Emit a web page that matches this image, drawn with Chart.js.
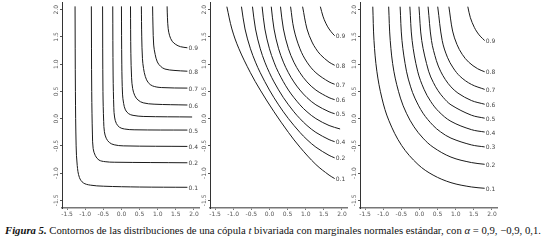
<!DOCTYPE html>
<html>
<head>
<meta charset="utf-8">
<title>Figura 5</title>
<script src="https://cdn.jsdelivr.net/npm/chart.js"></script>
<style>
  body { margin:0; background:#fff; width:548px; height:244px; overflow:hidden; position:relative; }
  canvas { position:absolute; top:0; }
  #cap { position:absolute; left:5px; top:224px; font-family:"Liberation Serif", "DejaVu Serif", serif; font-size:10.7px; color:#111; white-space:nowrap; }
</style>
</head>
<body>
<canvas id="c1" width="173" height="222" style="left:30px"></canvas>
<canvas id="c2" width="173" height="222" style="left:178px"></canvas>
<canvas id="c3" width="173" height="222" style="left:328px"></canvas>
<div id="cap"><b><i>Figura 5.</i></b> Contornos de las distribuciones de una cópula <i>t</i> bivariada con marginales normales estándar, con <i>α</i> = 0,9, −0,9, 0,1.</div>
<script>
var xTicks = [-1.5, -1.0, -0.5, 0.0, 0.5, 1.0, 1.5, 2.0];
var yTicks = [-1.5, -1.0, -0.5, 0.0, 0.5, 1.0, 1.5, 2.0];

// labels as printed at the right end of each contour (levels 0.1 .. 0.9)
var labels1 = ['0.1', '0.2', '0.4', '0.5', '', '0.6', '0.7', '0.8', '0.9'];
var labels2 = ['0.1', '0.2', '0.4', '', '0.5', '0.6', '0.7', '0.8', '0.9'];
var labels3 = ['0.1', '0.2', '0.3', '0.4', '0.5', '0.6', '0.7', '0.8', '0.9'];

// alpha = 0.9
var curves1 = [
  [[-1.28,2.06],[-1.27,0.5],[-1.25,-0.5],[-1.22,-0.86],[-1.16,-1.08],[-1.05,-1.18],[-0.86,-1.22],[-0.5,-1.24],[0.5,-1.255],[1.82,-1.26]],
  [[-0.83,2.06],[-0.82,0.5],[-0.80,-0.3],[-0.78,-0.55],[-0.72,-0.68],[-0.62,-0.76],[-0.45,-0.79],[-0.2,-0.80],[1.82,-0.81]],
  [[-0.52,2.06],[-0.51,0.5],[-0.49,-0.05],[-0.47,-0.24],[-0.42,-0.36],[-0.33,-0.44],[-0.2,-0.48],[0.05,-0.50],[1.82,-0.51]],
  [[-0.24,2.06],[-0.23,0.8],[-0.21,0.2],[-0.19,0.03],[-0.14,-0.09],[-0.05,-0.16],[0.08,-0.19],[0.35,-0.205],[1.82,-0.21]],
  [[0.0,2.06],[0.01,1.0],[0.03,0.45],[0.06,0.28],[0.11,0.16],[0.2,0.09],[0.32,0.06],[0.6,0.04],[1.95,0.03]],
  [[0.25,2.06],[0.26,1.2],[0.28,0.75],[0.31,0.55],[0.37,0.42],[0.46,0.34],[0.6,0.29],[0.9,0.265],[1.82,0.25]],
  [[0.55,2.06],[0.56,1.5],[0.58,1.1],[0.61,0.92],[0.66,0.77],[0.74,0.66],[0.86,0.6],[1.1,0.57],[1.82,0.56]],
  [[0.86,2.06],[0.87,1.7],[0.89,1.35],[0.93,1.18],[0.99,1.04],[1.08,0.96],[1.2,0.91],[1.45,0.885],[1.82,0.87]],
  [[1.26,2.06],[1.27,1.85],[1.29,1.65],[1.33,1.52],[1.4,1.42],[1.5,1.36],[1.63,1.32],[1.82,1.30]]
];

// alpha = -0.9
var curves2 = [
  [[-1.175,2.054],[-1.036,1.645],[-0.842,1.282],[-0.524,0.842],[-0.253,0.524],[0.126,0.126],[0.524,-0.253],[0.842,-0.524],[1.282,-0.842],[1.645,-1.036],[1.80,-1.10]],
  [[-0.772,2.054],[-0.674,1.645],[-0.524,1.282],[-0.385,1.036],[-0.253,0.842],[0,0.524],[0.253,0.253],[0.524,0],[0.842,-0.253],[1.036,-0.385],[1.282,-0.524],[1.645,-0.674],[1.80,-0.72]],
  [[-0.468,2.054],[-0.385,1.645],[-0.253,1.282],[-0.126,1.036],[0,0.842],[0.126,0.674],[0.385,0.385],[0.674,0.126],[0.842,0],[1.036,-0.126],[1.282,-0.253],[1.645,-0.385],[1.80,-0.423]],
  [[-0.202,2.054],[-0.126,1.645],[0,1.282],[0.126,1.036],[0.253,0.842],[0.524,0.524],[0.842,0.253],[1.036,0.126],[1.282,0],[1.645,-0.126],[1.95,-0.19]],
  [[0.05,2.054],[0.126,1.645],[0.253,1.282],[0.385,1.036],[0.524,0.842],[0.674,0.674],[0.842,0.524],[1.036,0.385],[1.282,0.253],[1.645,0.126],[1.80,0.09]],
  [[0.305,2.054],[0.385,1.645],[0.524,1.282],[0.674,1.036],[0.842,0.842],[1.036,0.674],[1.282,0.524],[1.645,0.385],[1.80,0.348]],
  [[0.583,2.054],[0.674,1.645],[0.842,1.282],[1.036,1.036],[1.282,0.842],[1.645,0.674],[1.80,0.631]],
  [[0.915,2.054],[1.036,1.645],[1.175,1.405],[1.282,1.282],[1.405,1.175],[1.645,1.036],[1.80,0.979]],
  [[1.405,2.054],[1.476,1.881],[1.555,1.751],[1.645,1.645],[1.751,1.555],[1.80,1.522]]
];

// alpha = 0.1
var curves3 = [
  [[-1.287,2.054],[-1.254,1.433],[-1.175,0.870],[-1.036,0.377],[-0.842,-0.038],[-0.492,-0.492],[-0.038,-0.842],[0.377,-1.036],[0.870,-1.175],[1.433,-1.254],[1.80,-1.278]],
  [[-0.849,2.054],[-0.806,1.433],[-0.706,0.870],[-0.524,0.377],[-0.358,0.098],[-0.15,-0.15],[0.098,-0.358],[0.377,-0.524],[0.870,-0.706],[1.433,-0.806],[1.80,-0.838]],
  [[-0.533,2.054],[-0.482,1.433],[-0.358,0.870],[-0.243,0.583],[-0.126,0.377],[0.099,0.099],[0.377,-0.126],[0.583,-0.243],[0.870,-0.358],[1.433,-0.482],[1.80,-0.519]],
  [[-0.264,2.054],[-0.202,1.433],[-0.05,0.870],[0.126,0.539],[0.313,0.313],[0.539,0.126],[0.870,-0.05],[1.433,-0.202],[1.80,-0.246]],
  [[-0.013,2.054],[0.063,1.433],[0.253,0.870],[0.385,0.662],[0.513,0.513],[0.662,0.385],[0.870,0.253],[1.433,0.063],[1.80,0.008]],
  [[0.238,2.054],[0.332,1.433],[0.468,1.063],[0.583,0.870],[0.716,0.716],[0.870,0.583],[1.063,0.468],[1.433,0.332],[1.80,0.264]],
  [[0.504,2.054],[0.628,1.433],[0.772,1.126],[0.931,0.931],[1.126,0.772],[1.433,0.628],[1.80,0.536]],
  [[0.813,2.054],[0.915,1.607],[1.036,1.359],[1.18,1.18],[1.359,1.036],[1.607,0.915],[1.80,0.860]],
  [[1.335,2.054],[1.405,1.852],[1.514,1.675],[1.589,1.589],[1.675,1.514],[1.80,1.433]]
];

// contour labels + rotated y tick labels (R style)
var tagPlugin = {
  id: 'tags',
  afterDatasetsDraw: function(chart) {
    var ctx = chart.ctx, xs = chart.scales.x, ys = chart.scales.y;
    ctx.save();
    ctx.font = '6px "DejaVu Sans"';
    ctx.fillStyle = '#444';
    ctx.textAlign = 'left';
    ctx.textBaseline = 'middle';
    chart.data.datasets.forEach(function(d) {
      if (!d.tag) return;
      var p = d.data[d.data.length - 1];
      ctx.fillText(d.tag, xs.getPixelForValue(p.x) + 1, ys.getPixelForValue(p.y) + 1);
    });
    ctx.fillStyle = '#555';
    ctx.textAlign = 'center';
    yTicks.forEach(function(v) {
      ctx.save();
      ctx.translate(chart.chartArea.left - 6, ys.getPixelForValue(v));
      ctx.rotate(-Math.PI / 2);
      ctx.fillText(v.toFixed(1), 0, 0);
      ctx.restore();
    });
    ctx.restore();
  }
};

function makeChart(id, curves, labels) {
  var datasets = curves.map(function(c, i) {
    return {
      data: c.map(function(p) { return {x: p[0], y: p[1]}; }),
      tag: labels[i],
      showLine: true,
      borderColor: '#1a1a1a',
      borderWidth: 1,
      pointRadius: 0,
      tension: 0.35
    };
  });
  return new Chart(document.getElementById(id), {
    type: 'scatter',
    data: { datasets: datasets },
    options: {
      responsive: false,
      animation: false,
      layout: { padding: { top: 2, right: 4, left: 0, bottom: 0 } },
      plugins: { legend: { display: false }, tooltip: { enabled: false } },
      scales: {
        x: {
          min: -1.64, max: 2.14,
          afterBuildTicks: function(s) { s.ticks = xTicks.map(function(v) { return {value: v}; }); },
          afterFit: function(s) { s.height = 14; },
          grid: { display: true, drawOnChartArea: false, drawTicks: true, tickLength: 2, color: '#777' },
          border: { display: true, color: '#777', width: 1.5 },
          ticks: { padding: 1, color: '#555', font: { family: 'DejaVu Sans', size: 6 }, maxRotation: 0, minRotation: 0, autoSkip: false,
                   callback: function(v) { return v.toFixed(1); } }
        },
        y: {
          min: -1.64, max: 2.14,
          afterBuildTicks: function(s) { s.ticks = yTicks.map(function(v) { return {value: v}; }); },
          afterFit: function(s) { s.width = 32; },
          grid: { display: true, drawOnChartArea: false, drawTicks: true, tickLength: 2, color: '#555' },
          border: { display: true, color: '#333', width: 1 },
          ticks: { display: false }
        }
      }
    },
    plugins: [tagPlugin]
  });
}

makeChart('c1', curves1, labels1);
makeChart('c2', curves2, labels2);
makeChart('c3', curves3, labels3);
</script>
</body>
</html>
